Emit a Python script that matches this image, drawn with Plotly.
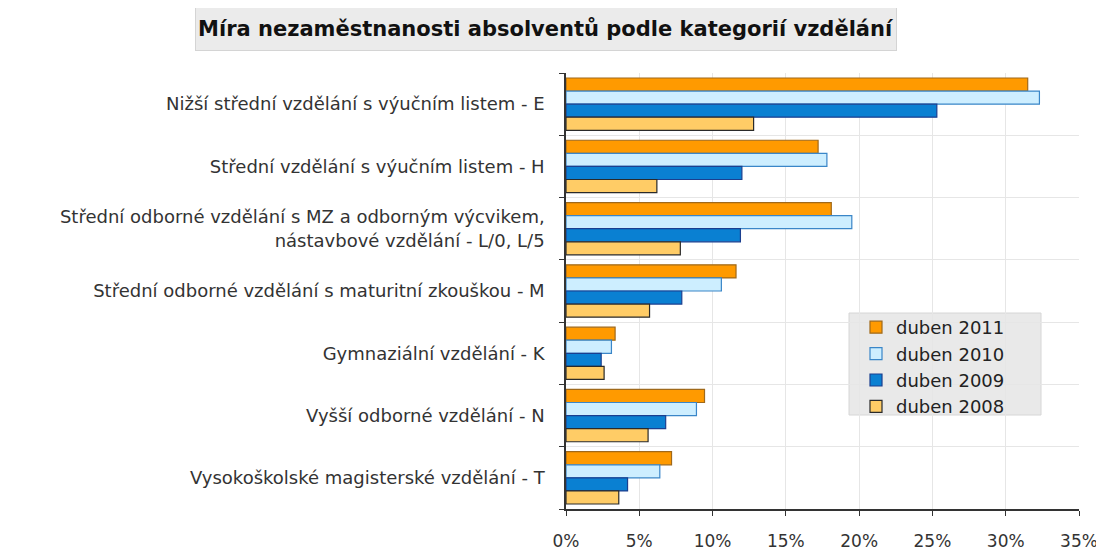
import plotly.graph_objects as go

categories = [
    "Nižší střední vzdělání s výučním listem - E",
    "Střední vzdělání s výučním listem - H",
    "Střední odborné vzdělání s MZ a odborným výcvikem,<br>nástavbové vzdělání - L/0, L/5",
    "Střední odborné vzdělání s maturitní zkouškou - M",
    "Gymnaziální vzdělání - K",
    "Vyšší odborné vzdělání - N",
    "Vysokoškolské magisterské vzdělání - T",
]
series_names = ["duben 2011", "duben 2010", "duben 2009", "duben 2008"]
v2011 = [31.5, 17.2, 18.1, 11.6, 3.35, 9.45, 7.2]
v2010 = [32.3, 17.8, 19.5, 10.6, 3.1, 8.9, 6.4]
v2009 = [25.3, 12.0, 11.9, 7.9, 2.4, 6.8, 4.2]
v2008 = [12.8, 6.2, 7.8, 5.7, 2.6, 5.6, 3.6]
x_ticks = [0, 5, 10, 15, 20, 25, 30, 35]
title_text = "Míra nezaměstnanosti absolventů podle kategorií vzdělání"

series_values = [v2011, v2010, v2009, v2008]
fills = ["#ff9a00", "#cdeeff", "#0a80d2", "#ffcc66"]
edges = ["#a0691a", "#3a86c8", "#1b3f8f", "#2a2a2a"]

ypos = list(range(len(categories)))

# The page body has an 8px margin, so the figure is drawn 8px in from the
# window's top-left corner; all pixel positions below are in figure pixels.
OFF = 8
FW, FH = 1104 - OFF, 552 - OFF
L, R, T, B = 566 - OFF, 1079 - OFF, 73 - OFF, 509 - OFF
W, H = R - L, B - T


def px_x(p):
    return (p - OFF - L) / W


def px_y(p):
    return (B - (p - OFF)) / H


fig = go.Figure()
for name, vals, fc, ec in zip(series_names, series_values, fills, edges):
    fig.add_trace(go.Bar(
        x=vals, y=ypos, name=name, orientation="h",
        marker=dict(color=fc, line=dict(color=ec, width=1.2)),
    ))

FONT = "DejaVu Sans"
fig.update_layout(
    width=FW, height=FH,
    paper_bgcolor="white", plot_bgcolor="white",
    margin=dict(l=L, r=FW - R, t=T, b=FH - B, autoexpand=False),
    barmode="group", bargap=0.16, bargroupgap=0.0,
    font=dict(family=FONT, color="#333333"),
    showlegend=True,
    legend=dict(
        x=px_x(856), y=px_y(309), xanchor="left", yanchor="top",
        bgcolor="rgba(0,0,0,0)", borderwidth=0,
        font=dict(family=FONT, size=18, color="#222222"),
        traceorder="normal", itemwidth=30, tracegroupgap=0,
    ),
    xaxis=dict(
        range=[0, 35], tickmode="array", tickvals=x_ticks,
        ticktext=[f"{t}%" for t in x_ticks],
        showgrid=True, gridcolor="#e6e6e6", gridwidth=1,
        showline=True, linecolor="#333333", linewidth=1.5,
        ticks="outside", ticklen=5, tickcolor="#333333",
        tickfont=dict(family=FONT, size=17, color="#333333"),
        ticklabelstandoff=11, zeroline=False, automargin=False,
    ),
    yaxis=dict(
        range=[len(categories) - 0.5, -0.5],
        tickmode="array", tickvals=ypos, ticktext=categories,
        showgrid=False, ticks="",
        showline=True, linecolor="#333333", linewidth=1.5,
        tickfont=dict(family=FONT, size=18, color="#333333"),
        ticklabelstandoff=16, zeroline=False, automargin=False,
        minor=dict(tickmode="linear", tick0=0.5, dtick=1, ticks="outside",
                   ticklen=5, tickcolor="#333333", showgrid=True,
                   gridcolor="#e6e6e6", gridwidth=1),
    ),
    shapes=[dict(
        type="rect", xref="paper", yref="paper", layer="between",
        x0=px_x(849), x1=px_x(1041), y0=px_y(415), y1=px_y(313),
        fillcolor="#e9e9e9", line=dict(color="#d6d6d6", width=1),
    )],
    annotations=[dict(
        text=title_text, xref="paper", yref="paper",
        x=px_x(546), y=px_y(29.5),
        xanchor="center", yanchor="middle", showarrow=False,
        width=698, height=40, bgcolor="#ebebeb", bordercolor="#d4d4d4",
        borderwidth=1, borderpad=1,
        font=dict(family=FONT, size=21, color="#111111", weight="bold"),
    )],
)

fig.write_html("out.html")
